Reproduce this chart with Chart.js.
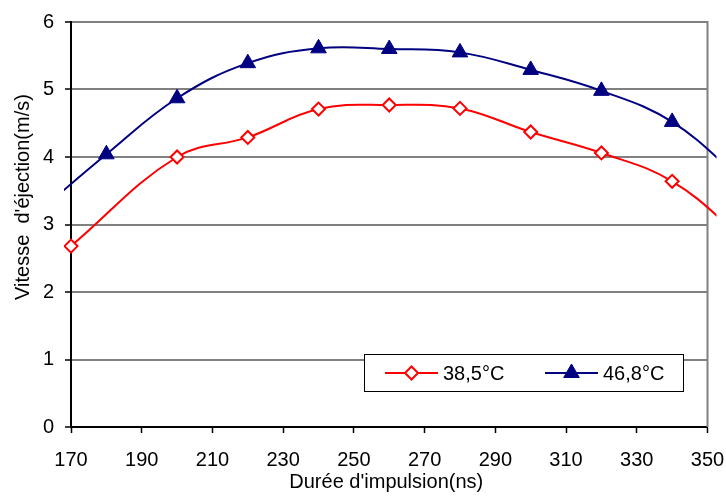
<!DOCTYPE html>
<html>
<head>
<meta charset="utf-8">
<script src="https://cdn.jsdelivr.net/npm/chart.js@4/dist/chart.umd.min.js"></script>
<style>
  html, body { margin: 0; padding: 0; background: #fff; }
  #wrap { position: relative; width: 726px; height: 502px; }
</style>
</head>
<body>
<div id="wrap"><canvas id="c" width="726" height="502"></canvas></div>
<script>
// ---- Data ----
const xTicks = [170, 190, 210, 230, 250, 270, 290, 310, 330, 350];
const yTicks = [0, 1, 2, 3, 4, 5, 6];

// 38,5°C series (hollow red diamonds); first/last values outside the axis only shape the line ends
const durations385 = [170, 200, 220, 240, 260, 280, 300, 320, 340, 360];
const vitesse385   = [2.68, 4.00, 4.29, 4.71, 4.77, 4.72, 4.37, 4.06, 3.64, 2.80];

// 46,8°C series (filled navy triangles)
const durations468 = [160, 180, 200, 220, 240, 260, 280, 300, 320, 340, 360];
const vitesse468   = [3.15, 4.04, 4.87, 5.39, 5.61, 5.60, 5.55, 5.29, 4.98, 4.52, 3.65];

const seriesLabels = ['38,5°C', '46,8°C'];
const xTitle = "Durée d'impulsion(ns)";
const yTitle = "Vitesse  d'éjection(m/s)";

const FONT = 'Liberation Sans, Arial, sans-serif';
const FS = 20;

function toPoints(xs, ys) { return xs.map((x, i) => ({ x: x, y: ys[i] })); }
function inRange(ctx) {
  const v = ctx.raw;
  return v && v.x >= xTicks[0] && v.x <= xTicks[xTicks.length - 1];
}

function drawMarker(ctx, style, x, y, r) {
  if (style === 'rectRot') {
    ctx.moveTo(x - r, y); ctx.lineTo(x, y - r); ctx.lineTo(x + r, y); ctx.lineTo(x, y + r); ctx.closePath();
  } else {
    const s = Math.sqrt(3) / 2;
    ctx.moveTo(x, y - r); ctx.lineTo(x + r * s, y + r / 2); ctx.lineTo(x - r * s, y + r / 2); ctx.closePath();
  }
}

const extrasPlugin = {
  id: 'extras',
  beforeDatasetsDraw(chart) {
    const { ctx, chartArea: a } = chart;
    ctx.save();
    ctx.strokeStyle = '#808080';
    ctx.lineWidth = 2;
    ctx.beginPath();
    ctx.moveTo(a.right, a.top - 1);
    ctx.lineTo(a.right, a.bottom);
    ctx.stroke();
    ctx.restore();
  },
  afterDraw(chart) {
    const { ctx } = chart;
    const a = chart.chartArea;
    ctx.save();
    // Axis titles
    ctx.fillStyle = '#000';
    ctx.font = FS + 'px ' + FONT;
    ctx.textAlign = 'center';
    ctx.textBaseline = 'middle';
    ctx.fillText(xTitle, (a.left + a.right) / 2 - 3, 482);
    ctx.save();
    ctx.translate(23, 197);
    ctx.rotate(-Math.PI / 2);
    ctx.fillText(yTitle, 0, 0);
    ctx.restore();

    // Legend box
    const bx = 364, by = 354, bw = 320, bh = 38;
    ctx.fillStyle = '#fff';
    ctx.fillRect(bx, by, bw, bh);
    ctx.strokeStyle = '#000';
    ctx.lineWidth = 1;
    ctx.strokeRect(bx + 0.5, by + 0.5, bw - 1, bh - 1);
    const cy = by + bh / 2;
    const items = [
      { ds: chart.data.datasets[0], x0: 385, x1: 438, tx: 443 },
      { ds: chart.data.datasets[1], x0: 545, x1: 598, tx: 603 }
    ];
    items.forEach(it => {
      ctx.strokeStyle = it.ds.borderColor;
      ctx.lineWidth = 2;
      ctx.beginPath();
      ctx.moveTo(it.x0, cy);
      ctx.lineTo(it.x1, cy);
      ctx.stroke();
      const mx = (it.x0 + it.x1) / 2;
      ctx.fillStyle = it.ds.pointBackgroundColor;
      ctx.strokeStyle = it.ds.pointBorderColor;
      ctx.lineWidth = it.ds.pointBorderWidth;
      ctx.beginPath();
      drawMarker(ctx, it.ds.pointStyle, mx, cy, it.ds.legendRadius);
      ctx.fill();
      ctx.stroke();
      ctx.fillStyle = '#000';
      ctx.textAlign = 'left';
      ctx.textBaseline = 'middle';
      ctx.fillText(it.ds.label, it.tx, cy + 1);
    });
    ctx.restore();
  }
};

new Chart(document.getElementById('c'), {
  type: 'line',
  data: {
    datasets: [
      {
        label: seriesLabels[0],
        data: toPoints(durations385, vitesse385),
        borderColor: '#ff0000',
        borderWidth: 2,
        tension: 0.4,
        capBezierPoints: false,
        pointStyle: 'rectRot',
        pointRadius: ctx => inRange(ctx) ? 6.5 : 0,
        pointBackgroundColor: '#ffffff',
        pointBorderColor: '#ff0000',
        pointBorderWidth: 2,
        legendRadius: 6.5,
        clip: { left: 7, right: 9, top: 5, bottom: 5 },
        order: 2
      },
      {
        label: seriesLabels[1],
        data: toPoints(durations468, vitesse468),
        borderColor: '#000080',
        borderWidth: 2,
        tension: 0.4,
        capBezierPoints: false,
        pointStyle: 'triangle',
        pointRadius: ctx => inRange(ctx) ? 9 : 0,
        pointBackgroundColor: '#000080',
        pointBorderColor: '#000080',
        pointBorderWidth: 1,
        legendRadius: 9,
        clip: { left: 7, right: 9, top: 5, bottom: 5 },
        order: 1
      }
    ]
  },
  options: {
    responsive: false,
    animation: false,
    devicePixelRatio: 1,
    layout: { padding: { left: 0, right: 18.5, top: 22, bottom: 0 } },
    plugins: {
      legend: { display: false },
      tooltip: { enabled: false },
      title: { display: false }
    },
    scales: {
      x: {
        type: 'linear',
        min: xTicks[0],
        max: xTicks[xTicks.length - 1],
        afterBuildTicks: s => { s.ticks = xTicks.map(v => ({ value: v })); },
        afterFit: s => { s.height = 75; s.paddingLeft = 0; s.paddingRight = 0; },
        grid: { drawOnChartArea: false, drawTicks: true, tickLength: 6, tickColor: '#000', tickWidth: 1.5 },
        border: { display: true, color: '#000', width: 2 },
        ticks: { color: '#000', font: { family: FONT, size: FS }, padding: 15, maxRotation: 0, autoSkip: false }
      },
      y: {
        type: 'linear',
        min: yTicks[0],
        max: yTicks[yTicks.length - 1],
        afterBuildTicks: s => { s.ticks = yTicks.map(v => ({ value: v })); },
        afterFit: s => { s.width = 71; s.paddingTop = 0; s.paddingBottom = 0; },
        grid: { color: '#808080', lineWidth: 2, drawTicks: true, tickLength: 6, tickColor: '#000', tickWidth: 1.5 },
        border: { display: true, color: '#000', width: 2 },
        ticks: { color: '#000', font: { family: FONT, size: FS }, padding: 11 }
      }
    }
  },
  plugins: [extrasPlugin]
});
</script>
</body>
</html>
